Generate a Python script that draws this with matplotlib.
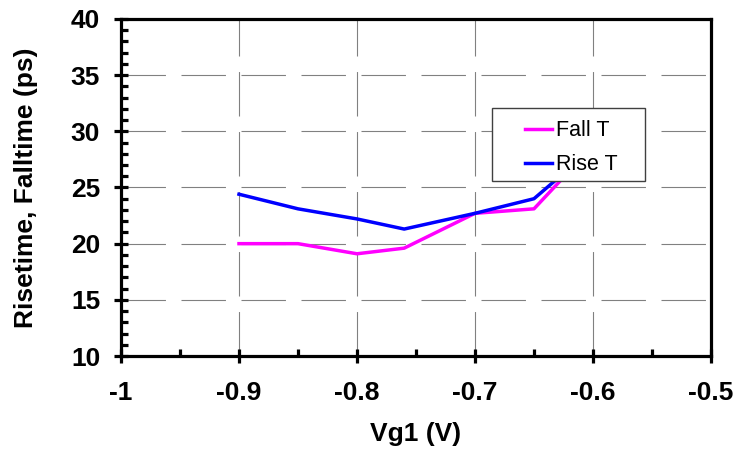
import matplotlib
matplotlib.use("Agg")
import matplotlib.pyplot as plt
from matplotlib.patches import Rectangle
from matplotlib.ticker import MultipleLocator

plt.rcParams["font.family"] = ["Liberation Sans", "DejaVu Sans"]

vg1 = [-0.9, -0.85, -0.8, -0.76, -0.7, -0.65, -0.6]
fall_t = [20.0, 20.0, 19.1, 19.6, 22.7, 23.1, 28.7]
rise_t = [24.4, 23.1, 22.2, 21.3, 22.7, 24.0, 28.5]

x_ticks = [-1, -0.9, -0.8, -0.7, -0.6, -0.5]
x_tick_labels = ["-1", "-0.9", "-0.8", "-0.7", "-0.6", "-0.5"]
y_ticks = [10, 15, 20, 25, 30, 35, 40]


def main() -> None:
    fig = plt.figure(figsize=(7.36, 4.51), dpi=100)
    ax = fig.add_axes([0.1644, 0.2106, 0.8016, 0.7474])

    ax.plot(vg1, fall_t, color="#FF00FF", linewidth=2.5, label="Fall T")
    ax.plot(vg1, rise_t, color="#0000FF", linewidth=2.5, label="Rise T")

    ax.set_xlim(-1, -0.5)
    ax.set_ylim(10, 40)
    ax.set_xticks(x_ticks)
    ax.set_xticklabels(x_tick_labels)
    ax.set_yticks(y_ticks)
    ax.xaxis.set_minor_locator(MultipleLocator(0.05))
    ax.yaxis.set_minor_locator(MultipleLocator(1))

    ax.grid(True, which="major", color="#808080", linewidth=0.8,
            linestyle=(0, (40, 14)))
    ax.set_axisbelow(True)

    for spine in ax.spines.values():
        spine.set_linewidth(2.3)
        spine.set_color("black")

    ax.tick_params(which="major", direction="inout", length=10, width=2.3,
                   labelsize=19)
    ax.tick_params(which="minor", direction="in", length=5, width=2.3)
    ax.tick_params(axis="x", which="major", pad=13)
    ax.tick_params(axis="y", which="major", pad=10)
    for label in ax.get_xticklabels() + ax.get_yticklabels():
        label.set_fontweight("bold")

    ax.set_xlabel("Vg1 (V)", fontsize=19, fontweight="bold", labelpad=12)
    ax.set_ylabel("Risetime, Falltime (ps)", fontsize=19, fontweight="bold")
    ax.yaxis.set_label_coords(-0.14, 0.5)

    # legend box drawn separately so the padding matches the original
    box = Rectangle((0.6288, 0.5193), 0.2593, 0.2166, transform=ax.transAxes,
                    facecolor="white", edgecolor="#404040", linewidth=1.0,
                    zorder=4)
    ax.add_patch(box)
    leg = ax.legend(loc="upper left", bbox_to_anchor=(0.685, 0.700),
                    fontsize=15.5, frameon=False, borderaxespad=0, borderpad=0,
                    handlelength=1.25, handletextpad=0.2, labelspacing=0.62)
    leg.set_zorder(5)

    fig.savefig("out.png", dpi=100)
    plt.close(fig)


if __name__ == "__main__":
    main()
